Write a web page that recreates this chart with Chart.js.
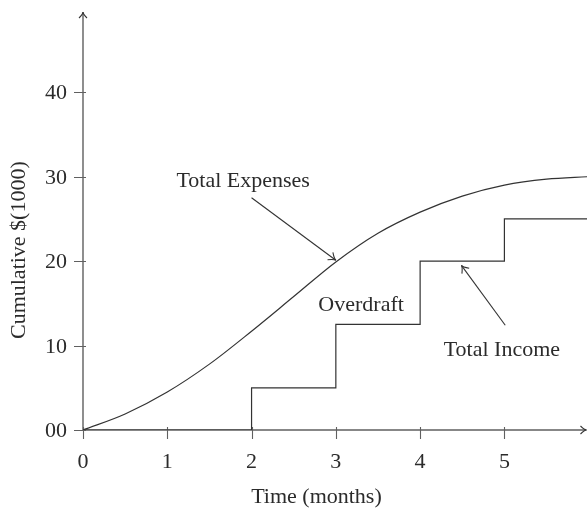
<!DOCTYPE html>
<html>
<head>
<meta charset="utf-8">
<script src="https://cdn.jsdelivr.net/npm/chart.js@4"></script>
<style>
  html, body { margin: 0; padding: 0; background: #fff; }
  #wrap { width: 587px; height: 509px; }
</style>
</head>
<body>
<div id="wrap"><canvas id="myChart" width="587" height="509"></canvas></div>
<script>
'use strict';

// expenses curve
const expenseMonths = [0, 0.5, 1, 1.5, 2, 2.5, 3, 3.5, 4, 4.5, 5, 5.5, 6];
const expenseValues = [0, 1.9, 4.5, 7.8, 11.7, 15.8, 19.9, 23.3, 25.8, 27.7, 29.0, 29.7, 30];

// income steps
const incomeMonths = [0, 2, 3, 4, 5, 6];
const incomeValues = [0, 5, 12.5, 20, 25, 25];

const xTicks = [0, 1, 2, 3, 4, 5];
const yTicks = [0, 10, 20, 30, 40];
const yTickLabels = ['00', '10', '20', '30', '40'];

const xTitle = 'Time (months)';
const yTitle = 'Cumulative $(1000)';

// text notes and arrows, in data units
const notes = [
  { text: 'Total Expenses', x: 1.9, y: 29.6 },
  { text: 'Overdraft', x: 3.3, y: 14.9 },
  { text: 'Total Income', x: 4.97, y: 9.65 },
];
const arrows = [
  { from: [2.0, 27.5], to: [3.0, 20.1] },
  { from: [5.01, 12.4], to: [4.49, 19.5] },
];

const FONT = '22px "Liberation Serif", "DejaVu Serif", serif';
const INK = '#2b2b2b';
const AXIS = '#606060';

function arrowHead(ctx, x1, y1, x2, y2, len, wid) {
  const a = Math.atan2(y2 - y1, x2 - x1);
  const c = Math.cos(a);
  const s = Math.sin(a);
  ctx.beginPath();
  ctx.moveTo(x2 - len * c + wid * s, y2 - len * s - wid * c);
  ctx.quadraticCurveTo(x2 - 2 * c, y2 - 2 * s, x2, y2);
  ctx.quadraticCurveTo(x2 - 2 * c, y2 - 2 * s, x2 - len * c - wid * s, y2 - len * s + wid * c);
  ctx.stroke();
}

const axesPlugin = {
  id: 'axesPlugin',
  beforeDatasetsDraw(chart) {
    const { ctx, chartArea } = chart;
    const xs = chart.scales.x;
    const ys = chart.scales.y;
    const x0 = xs.getPixelForValue(0);
    const y0 = ys.getPixelForValue(0);
    ctx.save();
    ctx.strokeStyle = AXIS;
    ctx.lineWidth = 1.4;
    ctx.beginPath();
    ctx.moveTo(x0, y0);
    ctx.lineTo(chartArea.right - 0.5, y0);
    ctx.moveTo(x0, y0);
    ctx.lineTo(x0, chartArea.top);
    ctx.stroke();
    ctx.strokeStyle = '#333';
    ctx.lineWidth = 1.1;
    arrowHead(ctx, x0, y0, x0, chartArea.top, 6, 4);
    arrowHead(ctx, x0, y0, chartArea.right - 0.5, y0, 6, 4);

    // ticks
    ctx.strokeStyle = AXIS;
    ctx.lineWidth = 1.1;
    ctx.beginPath();
    xTicks.forEach((v) => {
      const px = Math.round(xs.getPixelForValue(v)) + 0.5;
      ctx.moveTo(px, y0 - 3);
      ctx.lineTo(px, y0 + 9);
    });
    yTicks.forEach((v) => {
      const py = Math.round(ys.getPixelForValue(v)) + 0.5;
      ctx.moveTo(x0 - 9, py);
      ctx.lineTo(x0 + 3, py);
    });
    ctx.stroke();

    // tick labels
    ctx.fillStyle = INK;
    ctx.font = FONT;
    ctx.textBaseline = 'alphabetic';
    ctx.textAlign = 'center';
    xTicks.forEach((v) => {
      ctx.fillText(String(v), xs.getPixelForValue(v), y0 + 38);
    });
    ctx.textAlign = 'right';
    yTicks.forEach((v, i) => {
      ctx.fillText(yTickLabels[i], x0 - 16, ys.getPixelForValue(v) + 7);
    });

    // axis titles
    ctx.textAlign = 'center';
    ctx.fillText(xTitle, xs.getPixelForValue(2.77), y0 + 73);
    ctx.save();
    ctx.translate(25, ys.getPixelForValue(21.3));
    ctx.rotate(-Math.PI / 2);
    ctx.fillText(yTitle, 0, 0);
    ctx.restore();
    ctx.restore();
  },
  afterDatasetsDraw(chart) {
    const { ctx } = chart;
    const xs = chart.scales.x;
    const ys = chart.scales.y;
    ctx.save();
    ctx.fillStyle = INK;
    ctx.font = FONT;
    ctx.textAlign = 'center';
    ctx.textBaseline = 'alphabetic';
    notes.forEach((n) => {
      ctx.fillText(n.text, xs.getPixelForValue(n.x), ys.getPixelForValue(n.y) + 7);
    });
    ctx.strokeStyle = '#333';
    ctx.lineWidth = 1.1;
    arrows.forEach((a) => {
      const x1 = xs.getPixelForValue(a.from[0]);
      const y1 = ys.getPixelForValue(a.from[1]);
      const x2 = xs.getPixelForValue(a.to[0]);
      const y2 = ys.getPixelForValue(a.to[1]);
      ctx.beginPath();
      ctx.moveTo(x1, y1);
      ctx.lineTo(x2, y2);
      ctx.stroke();
      arrowHead(ctx, x1, y1, x2, y2, 7, 4.5);
    });
    ctx.restore();
  },
};

const config = {
  type: 'line',
  data: {
    datasets: [
      {
        label: 'Total Expenses',
        data: expenseMonths.map((m, i) => ({ x: m, y: expenseValues[i] })),
        borderColor: '#333',
        borderWidth: 1.2,
        pointRadius: 0,
        cubicInterpolationMode: 'monotone',
        fill: false,
      },
      {
        label: 'Total Income',
        data: incomeMonths.map((m, i) => ({ x: m, y: incomeValues[i] })),
        borderColor: '#333',
        borderWidth: 1.2,
        pointRadius: 0,
        stepped: true,
        fill: false,
      },
    ],
  },
  options: {
    responsive: false,
    animation: false,
    layout: { padding: { left: 83, right: 0, top: 12, bottom: 79 } },
    scales: {
      x: { type: 'linear', min: 0, max: 5.98, display: false },
      y: { type: 'linear', min: 0, max: 49.5, display: false },
    },
    plugins: {
      legend: { display: false },
      tooltip: { enabled: false },
    },
  },
  plugins: [axesPlugin],
};

const myChart = new Chart(document.getElementById('myChart'), config);
</script>
</body>
</html>
